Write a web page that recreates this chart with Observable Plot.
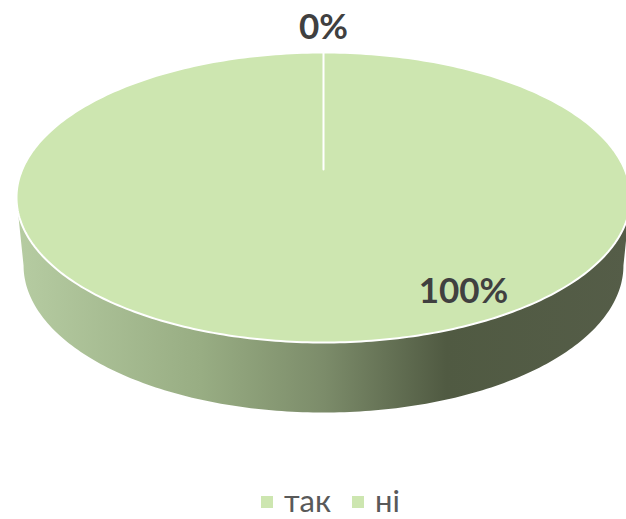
<!DOCTYPE html>
<html>
<head>
<meta charset="utf-8">
<script src="https://cdn.jsdelivr.net/npm/d3@7"></script>
<script src="https://cdn.jsdelivr.net/npm/@observablehq/plot@0.6"></script>
<style>
  html, body { margin: 0; padding: 0; background: #fff; overflow: hidden; }
  #chart { height: 481px; }
  #chart svg { overflow: hidden; }
  #legend { display: flex; align-items: center; height: 38px; padding-left: 261px; font: 31px/38px Lato, sans-serif; color: #595959; }
  #legend span.sw { display: inline-block; width: 12px; height: 12px; margin-right: 11px; position: relative; top: 2px; }
  #legend span.lb { margin-right: 21px; position: relative; top: 0px; }
  #legend span.lb:last-child { margin-right: 0; }
</style>
</head>
<body>
<div id="chart"></div>
<div id="legend"></div>
<script>
// Data
const categories = ["так", "ні"];
const values = [0, 100];
const labels = ["0%", "100%"];
const colors = ["#cde6b0", "#cde6b0"];

// Label anchors in the unit space of the pie's ellipse
const labelX = [0, 0.456];
const labelY = [1.172, -0.648];

// View of the 3D pie, in the unit space of the top ellipse
const hubY = 0.193;            // perspective: the pie's centre sits above the ellipse's centre
const baseScaleX = 0.977;
const baseScaleY = 1.014;
const baseShiftY = -0.469;

const total = d3.sum(values);
const rad = (d) => (d / total) * 2 * Math.PI;
const steps = d3.range(0, 361, 1).map((d) => (d / 360) * 2 * Math.PI);

// Top face slices
let acc = 0;
const slices = categories.flatMap((category, i) => {
  const a0 = rad(acc);
  const a1 = rad(acc + values[i]);
  acc += values[i];
  const arc = steps.filter((t) => t > a0 && t < a1);
  const ts = [a0, ...arc, a1];
  return [
    { category, x: 0, y: hubY },
    ...ts.map((t) => ({ category, x: Math.sin(t), y: Math.cos(t) })),
    { category, x: 0, y: hubY }
  ];
});

// Side wall: front half of the top rim and of the base rim
const front = steps.filter((t) => t >= Math.PI / 2 && t <= 1.5 * Math.PI);
const wall = [
  ...front.map((t) => ({ x: Math.sin(t), y: Math.cos(t) })),
  ...front.slice().reverse().map((t) => ({
    x: Math.sin(t) * baseScaleX,
    y: Math.cos(t) * baseScaleY + baseShiftY
  }))
];

const gradient = () => {
  const ns = "http://www.w3.org/2000/svg";
  const defs = document.createElementNS(ns, "defs");
  const g = document.createElementNS(ns, "linearGradient");
  g.setAttribute("id", "wallShade");
  g.setAttribute("x1", "0"); g.setAttribute("x2", "1");
  g.setAttribute("y1", "0"); g.setAttribute("y2", "0");
  [[0, "#b6cca2"], [0.3, "#98ad83"], [0.5, "#7c8c6a"], [0.7, "#505a42"], [1, "#555d48"]].forEach(([o, c]) => {
    const s = document.createElementNS(ns, "stop");
    s.setAttribute("offset", o);
    s.setAttribute("stop-color", c);
    g.appendChild(s);
  });
  defs.appendChild(g);
  return defs;
};

const plot = Plot.plot({
  width: 626,
  height: 481,
  style: { background: "#fff" },
  x: { domain: [-1, 1], range: [16, 630], axis: null },
  y: { domain: [-1, 1], range: [342, 52], axis: null },
  marks: [
    gradient,
    Plot.line(wall, { x: "x", y: "y", fill: "url(#wallShade)", stroke: "none", curve: "linear" }),
    Plot.line(slices, {
      x: "x", y: "y", z: "category",
      fill: (d) => colors[categories.indexOf(d.category)],
      stroke: "#fff", strokeWidth: 2, curve: "linear", strokeLinejoin: "round"
    }),
    Plot.text(labels, {
      x: (d, i) => labelX[i],
      y: (d, i) => labelY[i],
      text: (d) => d,
      fontFamily: "Lato, sans-serif",
      fontWeight: 700,
      fontSize: 35,
      fill: "#404040"
    })
  ]
});
document.getElementById("chart").appendChild(plot);

const legend = document.getElementById("legend");
categories.forEach((c, i) => {
  const sw = document.createElement("span");
  sw.className = "sw";
  sw.style.background = colors[i];
  const lb = document.createElement("span");
  lb.className = "lb";
  lb.textContent = c;
  legend.append(sw, lb);
});
</script>
</body>
</html>
